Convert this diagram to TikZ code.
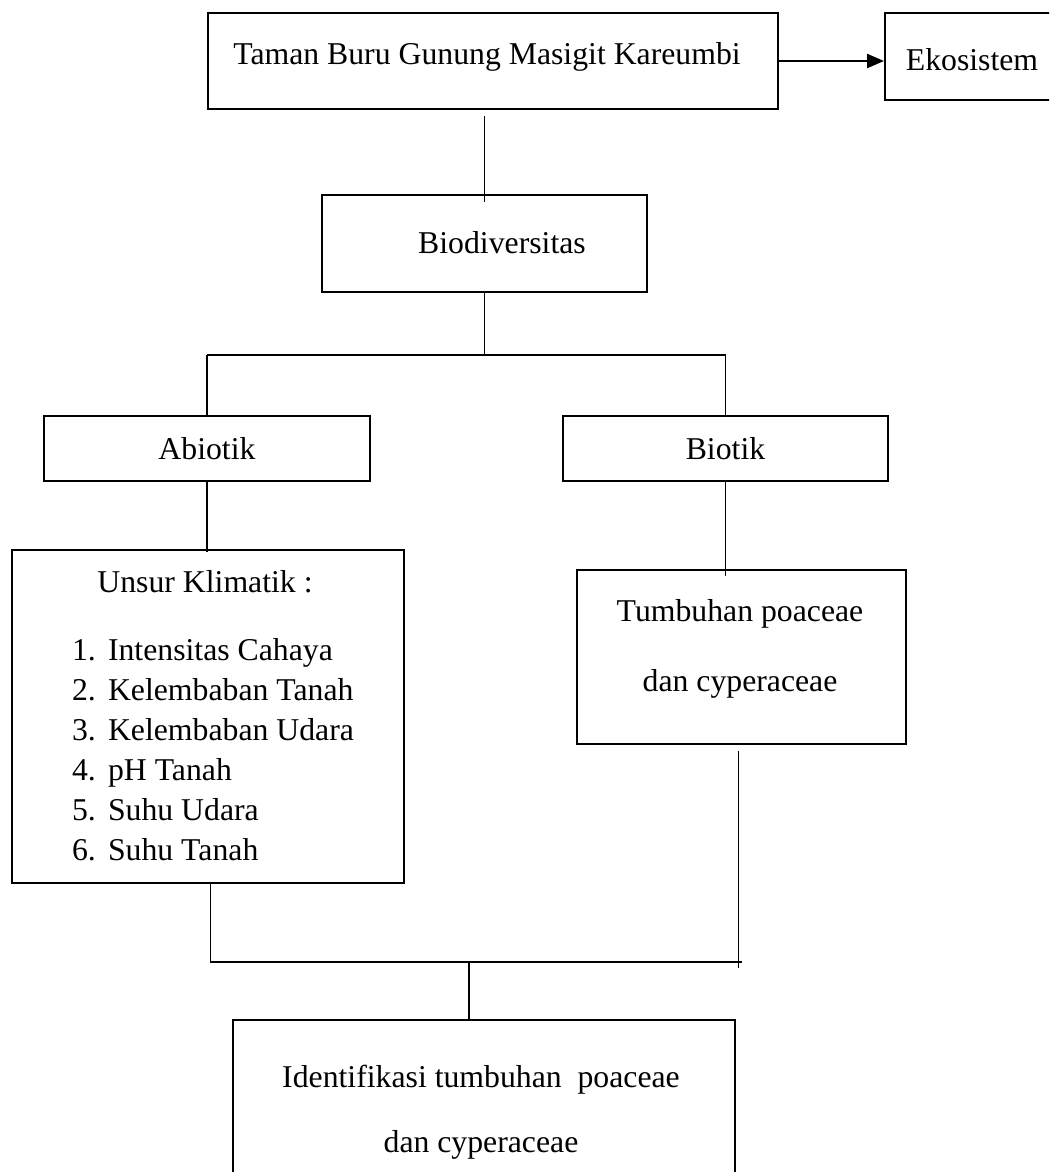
\documentclass[tikz,border=0pt]{standalone}
\usepackage{fontspec}
\setmainfont{Liberation Serif}
\usetikzlibrary{arrows.meta,fit}
\begin{document}
\begin{tikzpicture}[x=0.378pt,y=-0.378pt,
  box/.style={draw,line width=.75pt,inner sep=0pt},
  txt/.style={inner sep=0pt,font=\fontsize{12}{14}\selectfont},
  conn/.style={line width=.4pt}]
  \useasboundingbox (0,0) rectangle (1049,1172);
  \clip (0,0) rectangle (1049,1172);
  % boxes
  \node[box,fit={(208,13) (778,109)}] (taman) {};
  \node[txt] (tamantxt) at (487,57) {Taman Buru Gunung Masigit Kareumbi};
  \node[box,fit={(885,13) (1059,100)}] (eko) {};
  \node[txt] (ekotxt) at (972,60) {Ekosistem};
  \node[box,fit={(322,195) (647,292)}] (bio) {};
  \node[txt] (biotxt) at (502,243) {Biodiversitas};
  \node[box,fit={(44,416) (370,481)}] (abiotik) {};
  \node[txt] (abiotiktxt) at (abiotik) {Abiotik};
  \node[box,fit={(563,416) (888,481)}] (biotik) {};
  \node[txt] (biotiktxt) at (biotik) {Biotik};
  \node[box,fit={(12,550) (404,883)}] (unsur) {};
  \node[txt] (unsurtxt) at (205,582) {Unsur Klimatik :};
  \node[txt,align=left,font=\fontsize{12}{15.1}\selectfont] (unsurlist) at (213,750)
    {\makebox[13.6pt][l]{1.}Intensitas Cahaya\\
     \makebox[13.6pt][l]{2.}Kelembaban Tanah\\
     \makebox[13.6pt][l]{3.}Kelembaban Udara\\
     \makebox[13.6pt][l]{4.}pH Tanah\\
     \makebox[13.6pt][l]{5.}Suhu Udara\\
     \makebox[13.6pt][l]{6.}Suhu Tanah};
  \node[box,fit={(577,570) (906,744)}] (tumbuhan) {};
  \node[txt,align=center,font=\fontsize{12}{26.5}\selectfont] (tumbuhantxt) at (740,649)
    {Tumbuhan poaceae\\dan cyperaceae};
  \node[box,fit={(233,1020) (735,1200)}] (ident) {};
  \node[txt,align=center,font=\fontsize{12}{24.6}\selectfont] (identtxt) at (481,1112)
    {Identifikasi tumbuhan~ poaceae\\dan cyperaceae};
  \coordinate (split) at (486,355);
  \coordinate (join) at (469,962);
  % connectors
  \draw[line width=.8pt,-{Triangle[length=6.4pt,width=5.3pt]}] (taman.east) -- (taman.east -| eko.west);
  \draw[conn] ([yshift=-2.3pt]taman.south -| bio.north) -- ([yshift=-3pt]bio.north);
  \draw[conn] (bio.south) -- (bio.south |- split);
  \draw[conn] (abiotik.north |- split) -- (biotik.north |- split);
  \draw[conn] (abiotik.north |- split) -- (abiotik.north);
  \draw[conn] (biotik.north |- split) -- (biotik.north);
  \draw[conn] (abiotik.south) -- ([yshift=-1pt]unsur.north -| abiotik.south);
  \draw[conn] (biotik.south) -- ([yshift=-2.6pt]biotik.south |- tumbuhan.north);
  \draw[conn] ([xshift=.8pt]unsur.south) -- ([xshift=.8pt]unsur.south |- join);
  \draw[conn] ([yshift=-2.3pt,xshift=-1.3pt]tumbuhan.south) -- ([yshift=-2.3pt,xshift=-1.3pt]tumbuhan.south |- join);
  \draw[conn] ([xshift=.8pt]unsur.south |- join) -- (tumbuhan.south |- join);
  \draw[conn] (join) -- (join |- ident.north);
\end{tikzpicture}
\end{document}
